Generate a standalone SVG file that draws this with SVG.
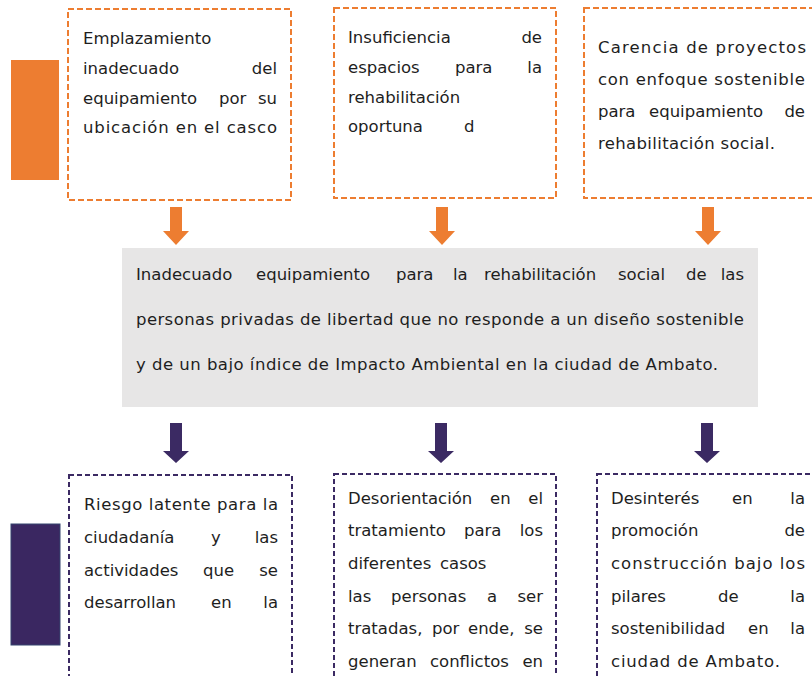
<svg xmlns="http://www.w3.org/2000/svg" width="812" height="676" viewBox="0 0 812 676">
<style>
.t{font-family:"DejaVu Sans","Liberation Sans",sans-serif;font-size:16.5px;fill:#1e1e1e}
.e{text-anchor:end}
.ob{fill:#fff;stroke:#ED7D31;stroke-width:2;stroke-dasharray:6 3}
.pb{fill:#fff;stroke:#3B2A63;stroke-width:2;stroke-dasharray:5 3}
.oa{fill:#ED7D31}
.pa{fill:#3B2A63}
</style>
<defs>
<path id="arr" d="M-6,0 H6 V24 H13 L0,38 L-13,24 H-6 Z"/>
</defs>
<rect x="11" y="60" width="48" height="120" fill="#ED7D31"/>
<rect x="11" y="524" width="49" height="121" fill="#3A2761" stroke="#34456f" stroke-width="1"/>

<g id="cause1">
<rect class="ob" x="68" y="9" width="223" height="191"/>
<text class="t" x="83" y="44">Emplazamiento</text>
<text class="t" x="83" y="74">inadecuado</text><text class="t e" x="277" y="74">del</text>
<text class="t" x="83" y="104">equipamiento</text><text class="t" x="219" y="104">por</text><text class="t e" x="277" y="104">su</text>
<text class="t" x="83" y="133" textLength="194" lengthAdjust="spacing">ubicación en el casco</text>
</g>
<g id="cause2">
<rect class="ob" x="334" y="8" width="222" height="190"/>
<text class="t" x="348" y="43">Insuficiencia</text><text class="t e" x="542" y="43">de</text>
<text class="t" x="348" y="73">espacios</text><text class="t" x="455" y="73">para</text><text class="t e" x="542" y="73">la</text>
<text class="t" x="348" y="103">rehabilitación</text>
<text class="t" x="348" y="132">oportuna</text><text class="t" x="464" y="132">d</text>
</g>
<g id="cause3">
<rect class="ob" x="584" y="8" width="240" height="190"/>
<text class="t" x="598" y="53" textLength="208" lengthAdjust="spacing">Carencia de proyectos</text>
<text class="t" x="598" y="85" textLength="207" lengthAdjust="spacing">con enfoque sostenible</text>
<text class="t" x="598" y="117">para</text><text class="t" x="649" y="117">equipamiento</text><text class="t e" x="805" y="117">de</text>
<text class="t" x="598" y="149" textLength="177" lengthAdjust="spacing">rehabilitación social.</text>
</g>

<g id="problem">
<rect x="122" y="248" width="636" height="159" fill="#E7E6E6"/>
<text class="t" x="136" y="280">Inadecuado</text><text class="t" x="256" y="280">equipamiento</text><text class="t" x="396" y="280">para</text><text class="t" x="453" y="280">la</text><text class="t" x="484" y="280">rehabilitación</text><text class="t" x="618" y="280">social</text><text class="t" x="686" y="280">de</text><text class="t e" x="744" y="280">las</text>
<text class="t" x="136" y="325" textLength="608" lengthAdjust="spacing">personas privadas de libertad que no responde a un diseño sostenible</text>
<text class="t" x="136" y="370" textLength="582" lengthAdjust="spacing">y de un bajo índice de Impacto Ambiental en la ciudad de Ambato.</text>
</g>

<g id="effect1">
<rect class="pb" x="69" y="475" width="223" height="215"/>
<text class="t" x="84" y="510" textLength="194" lengthAdjust="spacing">Riesgo latente para la</text>
<text class="t" x="84" y="543">ciudadanía</text><text class="t" x="211" y="543">y</text><text class="t e" x="278" y="543">las</text>
<text class="t" x="84" y="576">actividades</text><text class="t" x="203" y="576">que</text><text class="t e" x="278" y="576">se</text>
<text class="t" x="84" y="608">desarrollan</text><text class="t" x="211" y="608">en</text><text class="t e" x="278" y="608">la</text>
</g>
<g id="effect2">
<rect class="pb" x="334" y="474" width="222" height="215"/>
<text class="t" x="348" y="504">Desorientación</text><text class="t" x="490" y="504">en</text><text class="t e" x="543" y="504">el</text>
<text class="t" x="348" y="536">tratamiento</text><text class="t" x="464" y="536">para</text><text class="t e" x="543" y="536">los</text>
<text class="t" x="348" y="569">diferentes</text><text class="t" x="440" y="569">casos</text>
<text class="t" x="348" y="602">las</text><text class="t" x="391" y="602">personas</text><text class="t" x="487" y="602">a</text><text class="t e" x="543" y="602">ser</text>
<text class="t" x="348" y="634">tratadas,</text><text class="t" x="432" y="634">por</text><text class="t" x="468" y="634">ende,</text><text class="t e" x="543" y="634">se</text>
<text class="t" x="348" y="667">generan</text><text class="t" x="430" y="667">conflictos</text><text class="t e" x="543" y="667">en</text>
</g>
<g id="effect3">
<rect class="pb" x="597" y="474" width="230" height="215"/>
<text class="t" x="611" y="504">Desinterés</text><text class="t" x="732" y="504">en</text><text class="t e" x="805" y="504">la</text>
<text class="t" x="611" y="536">promoción</text><text class="t e" x="805" y="536">de</text>
<text class="t" x="611" y="569" textLength="194" lengthAdjust="spacing">construcción bajo los</text>
<text class="t" x="611" y="602">pilares</text><text class="t" x="718" y="602">de</text><text class="t e" x="805" y="602">la</text>
<text class="t" x="611" y="634">sostenibilidad</text><text class="t" x="748" y="634">en</text><text class="t e" x="805" y="634">la</text>
<text class="t" x="611" y="667" textLength="169" lengthAdjust="spacing">ciudad de Ambato.</text>
</g>

<g id="connectors">
<use href="#arr" class="oa" x="176" y="207"/>
<use href="#arr" class="oa" x="442" y="207"/>
<use href="#arr" class="oa" x="708" y="207"/>
<path class="pa" d="M170,423 H182 V451 H189 L176,463 L163,451 H170 Z"/>
<path class="pa" d="M435,423 H447 V451 H454 L441,463 L428,451 H435 Z"/>
<path class="pa" d="M701,423 H713 V451 H720 L707,463 L694,451 H701 Z"/>
</g>
</svg>
